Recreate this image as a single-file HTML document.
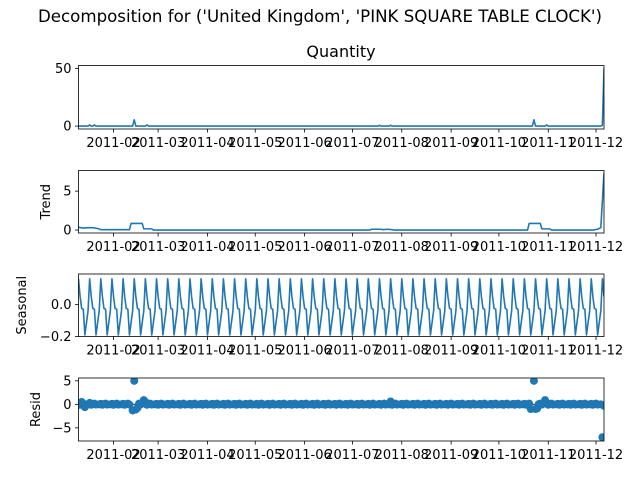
<!DOCTYPE html>
<html><head><meta charset="utf-8"><style>
body{margin:0;background:#fff}
svg{display:block;font-family:"DejaVu Sans","Liberation Sans",sans-serif}
</style></head><body>
<svg id="c" width="640" height="480" viewBox="0 0 640 480">
<text x="320" y="22" font-size="16.5" text-anchor="middle" textLength="564" lengthAdjust="spacingAndGlyphs">Decomposition for ('United Kingdom', 'PINK SQUARE TABLE CLOCK')</text>
<text x="341" y="57" font-size="16" text-anchor="middle">Quantity</text>
</svg>
<script>
// x positions are days since 2011-01-10
const monthTickDays = [22,50,81,111,142,172,203,234,264,295,325];
const monthTickLabels = ["2011-02","2011-03","2011-04","2011-05","2011-06","2011-07","2011-08","2011-09","2011-10","2011-11","2011-12"];
const totalDays = 330;
// Observed quantity: [day, value] points
const quantityDays = [0,6,7,8,9,10,11,34,35,36,42,43,44,188,189,190,195,196,197,285,286,287,293,294,295,328,329,330];
const quantityValues = [0,0,1,0,0,1,0,0,5.5,0,0,1,0,0,0.7,0,0,0.7,0,0,5.5,0,0,1,0,0,0.8,50];
// Trend
const trendDays = [0,3,6,9,12,14,32,33,40,41,46,47,183,184,190,191,194,197,198,282,283,290,291,296,297,323,326,328,330];
const trendValues = [0.35,0.25,0.3,0.3,0.2,0.05,0.05,0.85,0.85,0.15,0.15,0,0,0.1,0.1,0.05,0.1,0.05,0,0,0.85,0.85,0.15,0.15,0,0,0.1,0.3,7.3];
// Seasonal weekly pattern (Mon..Fri, Sun; no Saturdays)
const seasonalPattern = [0.16,0.05,-0.025,-0.03,-0.19,-0.04];
// Residuals: weekly base pattern plus outliers
const residPattern = [0.1,-0.1,0.05,0.15,-0.05,0.0];
const residOutlierDays = [2,4,5,7,33,34,35,36,37,40,41,42,187,196,284,285,286,287,288,292,293,329,330];
const residOutlierValues = [0.5,-0.6,0.6,0.3,-1.0,-1.3,5,-1.1,-0.8,0.6,0.9,0.5,0.6,0.6,-1.0,-1.1,5,-1.0,-0.9,0.7,0.9,-7,-0.3];

const NS="http://www.w3.org/2000/svg";
const svg=document.getElementById('c');
const X0=78.5, X1=604;
function xs(d){return X0+(d/totalDays)*(X1-X0);}
function mk(tag,attrs,parent){const e=document.createElementNS(NS,tag);for(const k in attrs)e.setAttribute(k,attrs[k]);(parent||svg).appendChild(e);return e;}

const panels=[
 {name:'quantity',top:65.5,bot:129,ymin:-2.5,ymax:52.5,ticks:[0,50],labels:["0","50"],ylabel:null,lx:0},
 {name:'trend',top:170.5,bot:233,ymin:-0.38,ymax:7.65,ticks:[0,5],labels:["0","5"],ylabel:'Trend',lx:50},
 {name:'seasonal',top:274,bot:336.5,ymin:-0.2,ymax:0.19,ticks:[0,-0.2],labels:["0.0","−0.2"],ylabel:'Seasonal',lx:26},
 {name:'resid',top:378,bot:441,ymin:-7.8,ymax:5.6,ticks:[5,0,-5],labels:["5","0","−5"],ylabel:'Resid',lx:40}
];
function ys(p,v){return p.bot-(v-p.ymin)/(p.ymax-p.ymin)*(p.bot-p.top);}

// day list excluding Saturdays (day 0 = Monday)
const days=[];for(let d=0;d<=totalDays;d++){if(d%7!==5)days.push(d);}

panels.forEach((p,pi)=>{
  const g=mk('g',{});
  
  
  const clipId='clip'+pi;
  const cp=mk('clipPath',{id:clipId},g);
  mk('rect',{x:X0,y:p.top,width:X1-X0,height:p.bot-p.top},cp);
  const data=mk('g',{'clip-path':'url(#'+clipId+')'},g);
  
  
  if(p.name==='quantity'||p.name==='trend'){
    const D=p.name==='quantity'?quantityDays:trendDays, V=p.name==='quantity'?quantityValues:trendValues;
    const pts=D.map((d,i)=>xs(d).toFixed(2)+','+ys(p,V[i]).toFixed(2)).join(' ');
    const l=mk('polyline',{points:pts,fill:'none',stroke:'#1f77b4','stroke-width':1.6,'stroke-linejoin':'round'},data);
    
    
  } else if(p.name==='seasonal'){
    const pts=days.map(d=>{const w=d%7;const idx=w<5?w:5;return xs(d).toFixed(2)+','+ys(p,seasonalPattern[idx]).toFixed(2);}).join(' ');
    const l=mk('polyline',{points:pts,fill:'none',stroke:'#1f77b4','stroke-width':1.6,'stroke-linejoin':'round'},data);
    
    
  } else {
    mk('line',{x1:X0,x2:X1,y1:ys(p,0),y2:ys(p,0),stroke:'#000','stroke-width':0.8},data);
    days.forEach((d,i)=>{
      const oi=residOutlierDays.indexOf(d);
      const v=oi>=0?residOutlierValues[oi]:residPattern[i%residPattern.length];
      const c=mk('circle',{cx:xs(d),cy:ys(p,v),r:4,fill:'#1f77b4'},data);
      
      
    });
  }
  const fr=mk('rect',{x:X0,y:p.top,width:X1-X0,height:p.bot-p.top,fill:'none',stroke:'#000','stroke-width':0.8},g);
  
  
  p.ticks.forEach((t,i)=>{
    const y=ys(p,t);
    mk('line',{x1:X0-3.5,x2:X0,y1:y,y2:y,stroke:'#000','stroke-width':0.8},g);
    const tx=mk('text',{x:X0-7,y:y+4.5,'font-size':13,'text-anchor':'end'},g);
    tx.textContent=p.labels[i];
    
    
  });
  monthTickDays.forEach((d,i)=>{
    const x=xs(d);
    mk('line',{x1:x,x2:x,y1:p.bot,y2:p.bot+3.5,stroke:'#000','stroke-width':0.8},g);
    const tx=mk('text',{x:x,y:p.bot+18,'font-size':13,'text-anchor':'middle'},g);
    tx.textContent=monthTickLabels[i];
    
    
  });
  if(p.ylabel){
    const cy=(p.top+p.bot)/2;
    const yl=mk('text',{x:0,y:0,'font-size':13,'text-anchor':'middle',transform:'translate('+p.lx+','+cy+') rotate(-90)'},g);
    yl.textContent=p.ylabel;
    
    
  }
});
</script>
</body></html>
